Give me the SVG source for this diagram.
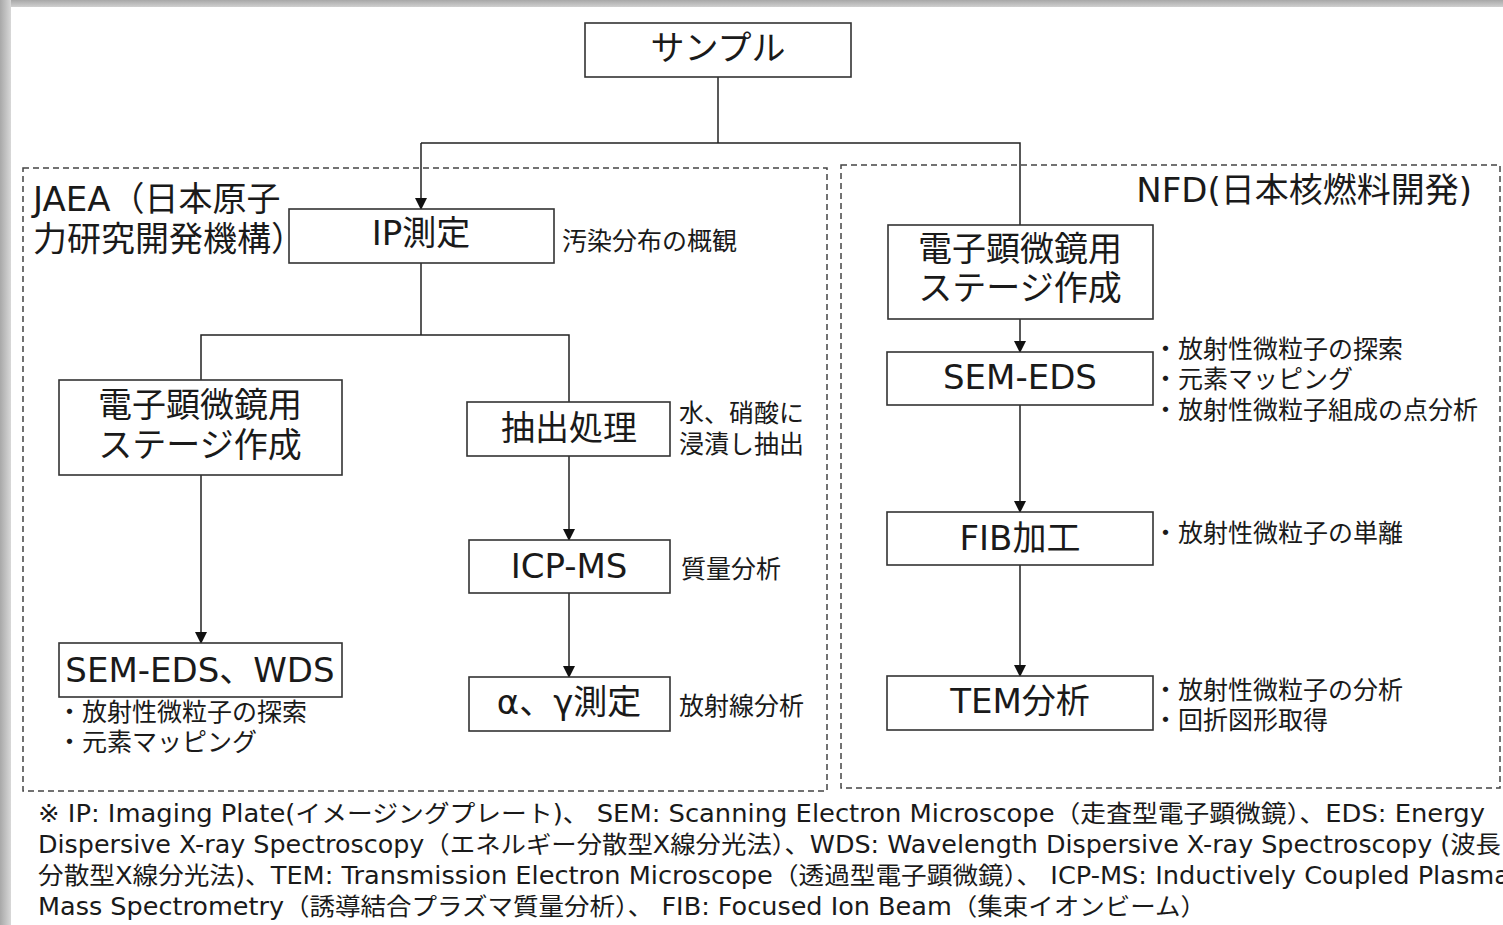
<svg xmlns="http://www.w3.org/2000/svg" width="1503" height="925" viewBox="0 0 1503 925">
<style>
text{font-family:"DejaVu Sans","Noto Sans CJK JP",sans-serif;fill:#1a1a1a}
.big{font-size:34px;text-anchor:middle}
.sm{font-size:25px}
.fn{font-size:24px}
.box{fill:#fff;stroke:#333;stroke-width:1.6}
.grp{fill:none;stroke:#444;stroke-width:1.5;stroke-dasharray:6 4}
.con{fill:none;stroke:#222;stroke-width:1.5}
</style>
<defs>
<marker id="ah" markerWidth="12" markerHeight="12" refX="11" refY="6" orient="auto" markerUnits="userSpaceOnUse">
<path d="M0,0 L12,6 L0,12 Z" fill="#111"/>
</marker>
<linearGradient id="gl" x1="0" x2="1" y1="0" y2="0"><stop offset="0" stop-color="#a8a8a8"/><stop offset="1" stop-color="#d8d8d8"/></linearGradient>
<linearGradient id="gt" x1="0" x2="0" y1="0" y2="1"><stop offset="0" stop-color="#a8a8a8"/><stop offset="1" stop-color="#d0d0d0"/></linearGradient>
</defs>
<rect x="0" y="0" width="1503" height="7" fill="url(#gt)"/>
<rect x="0" y="0" width="11" height="925" fill="url(#gl)"/>
<rect x="11" y="7" width="1492" height="918" fill="#fff"/>

<g id="groups">
<rect id="jaea-group" class="grp" x="23" y="168" width="804" height="623"/>
<rect id="nfd-group" class="grp" x="841" y="165" width="659" height="623"/>
<text class="big" style="text-anchor:start" x="33" y="211">JAEA（日本原子</text>
<text class="big" style="text-anchor:start" x="33" y="251">力研究開発機構）</text>
<text class="big" style="text-anchor:end" x="1472" y="202">NFD(日本核燃料開発)</text>
</g>

<g id="connectors">
<path class="con" d="M718,77 V143"/>
<path class="con" d="M421,143 H1020 V225"/>
<path class="con" d="M421,143 V209" marker-end="url(#ah)"/>
<path class="con" d="M421,263 V335"/>
<path class="con" d="M201,380 V335 H569 V402"/>
<path class="con" d="M201,475 V643" marker-end="url(#ah)"/>
<path class="con" d="M569,456 V540" marker-end="url(#ah)"/>
<path class="con" d="M569,593 V677" marker-end="url(#ah)"/>
<path class="con" d="M1020,319 V352" marker-end="url(#ah)"/>
<path class="con" d="M1020,405 V512" marker-end="url(#ah)"/>
<path class="con" d="M1020,565 V676" marker-end="url(#ah)"/>
</g>

<g id="sample">
<rect class="box" x="585" y="23" width="266" height="54"/>
<text class="big" x="718" y="60">サンプル</text>
</g>

<g id="ip">
<rect class="box" x="289" y="209" width="265" height="54"/>
<text class="big" x="421" y="245">IP測定</text>
<text class="sm" x="562" y="250">汚染分布の概観</text>
</g>

<g id="jaea-stage">
<rect class="box" x="59" y="380" width="283" height="95"/>
<text class="big" x="200" y="417">電子顕微鏡用</text>
<text class="big" x="200" y="457">ステージ作成</text>
</g>

<g id="jaea-sem">
<rect class="box" x="59" y="643" width="283" height="54"/>
<text class="big" x="200" y="682">SEM-EDS、WDS</text>
<text class="sm" x="57" y="721">・放射性微粒子の探索</text>
<text class="sm" x="57" y="751">・元素マッピング</text>
</g>

<g id="extract">
<rect class="box" x="467" y="402" width="203" height="54"/>
<text class="big" x="569" y="440">抽出処理</text>
<text class="sm" x="679" y="422">水、硝酸に</text>
<text class="sm" x="679" y="453">浸漬し抽出</text>
</g>

<g id="icpms">
<rect class="box" x="469" y="540" width="201" height="53"/>
<text class="big" x="569" y="578">ICP-MS</text>
<text class="sm" x="681" y="578">質量分析</text>
</g>

<g id="alpha-gamma">
<rect class="box" x="469" y="677" width="201" height="54"/>
<text class="big" x="569" y="714">α、γ測定</text>
<text class="sm" x="679" y="715">放射線分析</text>
</g>

<g id="nfd-stage">
<rect class="box" x="888" y="225" width="265" height="94"/>
<text class="big" x="1020" y="261">電子顕微鏡用</text>
<text class="big" x="1020" y="300">ステージ作成</text>
</g>

<g id="nfd-sem">
<rect class="box" x="887" y="352" width="266" height="53"/>
<text class="big" x="1020" y="389">SEM-EDS</text>
<text class="sm" x="1153" y="358">・放射性微粒子の探索</text>
<text class="sm" x="1153" y="388">・元素マッピング</text>
<text class="sm" x="1153" y="419">・放射性微粒子組成の点分析</text>
</g>

<g id="fib">
<rect class="box" x="887" y="512" width="266" height="53"/>
<text class="big" x="1020" y="550">FIB加工</text>
<text class="sm" x="1153" y="542">・放射性微粒子の単離</text>
</g>

<g id="tem">
<rect class="box" x="887" y="676" width="266" height="54"/>
<text class="big" x="1020" y="713">TEM分析</text>
<text class="sm" x="1153" y="699">・放射性微粒子の分析</text>
<text class="sm" x="1153" y="729">・回折図形取得</text>
</g>

<g id="footnote">
<text class="fn" x="38" y="822" textLength="1447" lengthAdjust="spacingAndGlyphs">※ IP: Imaging Plate(イメージングプレート)、 SEM: Scanning Electron Microscope（走査型電子顕微鏡）、EDS: Energy</text>
<text class="fn" x="38" y="853" textLength="1463" lengthAdjust="spacingAndGlyphs">Dispersive X-ray Spectroscopy（エネルギー分散型X線分光法）、WDS: Wavelength Dispersive X-ray Spectroscopy (波長</text>
<text class="fn" x="38" y="884" textLength="1472" lengthAdjust="spacingAndGlyphs">分散型X線分光法)、TEM: Transmission Electron Microscope（透過型電子顕微鏡）、 ICP-MS: Inductively Coupled Plasma</text>
<text class="fn" x="38" y="915" textLength="1168" lengthAdjust="spacingAndGlyphs">Mass Spectrometry（誘導結合プラズマ質量分析）、 FIB: Focused Ion Beam（集束イオンビーム）</text>
</g>
</svg>
